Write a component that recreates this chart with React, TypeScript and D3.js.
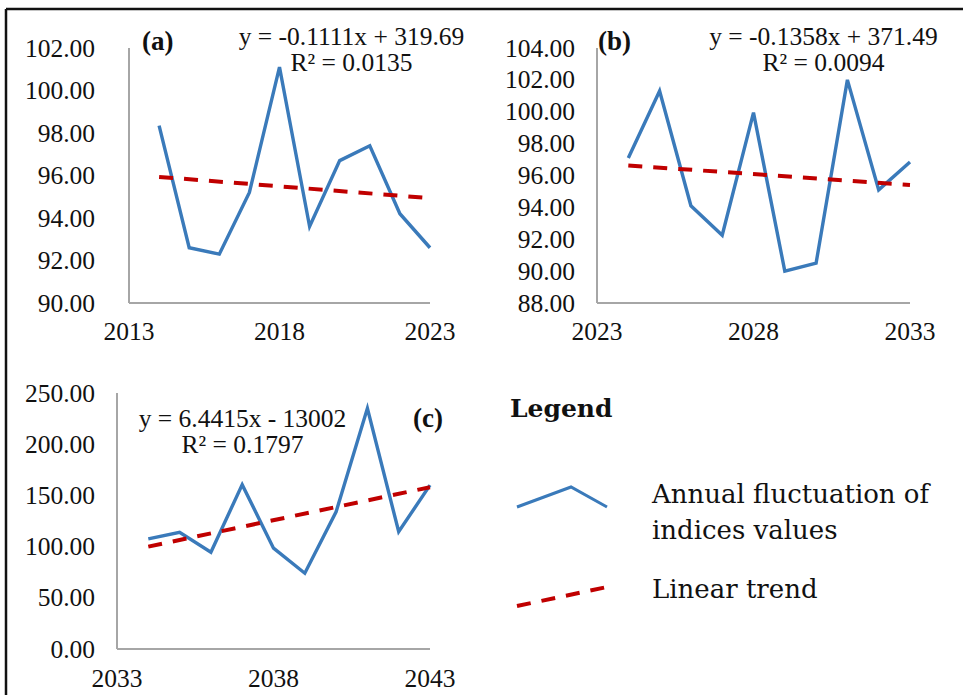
import React from "react";
import { scaleLinear, line } from "d3";

// ---- data ----
const yearsA = [2014, 2015, 2016, 2017, 2018, 2019, 2020, 2021, 2022, 2023];
const valuesA = [98.35, 92.6, 92.3, 95.2, 101.1, 93.6, 96.7, 97.4, 94.2, 92.6];
const yTicksA = [90, 92, 94, 96, 98, 100, 102];
const xTicksA = [2013, 2018, 2023];
const trendA = { slope: -0.1111, intercept: 319.69 };

const yearsB = [2024, 2025, 2026, 2027, 2028, 2029, 2030, 2031, 2032, 2033];
const valuesB = [97.1, 101.3, 94.1, 92.25, 99.95, 90.0, 90.5, 102.0, 95.1, 96.85];
const yTicksB = [88, 90, 92, 94, 96, 98, 100, 102, 104];
const xTicksB = [2023, 2028, 2033];
const trendB = { slope: -0.1358, intercept: 371.49 };

const yearsC = [2034, 2035, 2036, 2037, 2038, 2039, 2040, 2041, 2042, 2043];
const valuesC = [107.5, 114, 94.5, 160.5, 98.5, 74, 134, 235, 114.5, 160];
const yTicksC = [0, 50, 100, 150, 200, 250];
const xTicksC = [2033, 2038, 2043];
const trendC = { slope: 6.4415, intercept: -13002 };

const legendItems = ["Annual fluctuation of", "indices values", "Linear trend"];

const BLUE = "#3a7aba";
const RED = "#c00000";
const AXIS = "#a6a6a6";
const TICK_FONT = "'Liberation Serif', 'Times New Roman', serif";
const LEGEND_FONT = "'DejaVu Serif', serif";
const FS = 25.5;

const Panel = ({ years, values, yTicks, xTicks, trend, left, right, top, bottom, labelEnd, xLabelY, tag, tagPos, eq, r2, eqPos }: any) => {
    const x = scaleLinear().domain([xTicks[0], xTicks[xTicks.length - 1]]).range([left, right]);
    const y = scaleLinear().domain([yTicks[0], yTicks[yTicks.length - 1]]).range([bottom, top]);
    const pts = years.map((yr: number, i: number) => [x(yr), y(values[i])]);
    const path = line()(pts as any) || "";
    const t0 = years[0];
    const t1 = years[years.length - 1];
    const trendPath = line()([
        [x(t0), y(trend.slope * t0 + trend.intercept)],
        [x(t1), y(trend.slope * t1 + trend.intercept)]
    ]) || "";

    return (
        <g>
            <line x1={left} x2={left} y1={top} y2={bottom} stroke={AXIS} strokeWidth={2} />
            <line x1={left} x2={right} y1={bottom} y2={bottom} stroke={AXIS} strokeWidth={2} />
            {yTicks.map((t: number) => (
                <text key={t} x={labelEnd} y={y(t) + 8.5} textAnchor="end" fontFamily={TICK_FONT} fontSize={FS} fill="#111">
                    {t.toFixed(2)}
                </text>
            ))}
            {xTicks.map((t: number) => (
                <text key={t} x={x(t)} y={xLabelY} textAnchor="middle" fontFamily={TICK_FONT} fontSize={FS} fill="#111">
                    {t}
                </text>
            ))}
            <path d={path} fill="none" stroke={BLUE} strokeWidth={3.4} strokeLinejoin="miter" />
            <path d={trendPath} fill="none" stroke={RED} strokeWidth={4} strokeDasharray="14 11" />
            <text x={tagPos[0]} y={tagPos[1]} fontFamily={TICK_FONT} fontWeight="bold" fontSize={27} fill="#111">
                {tag}
            </text>
            <text x={eqPos[0]} y={eqPos[1]} textAnchor="middle" fontFamily={TICK_FONT} fontSize={FS} fill="#111">
                {eq}
            </text>
            <text x={eqPos[0]} y={eqPos[2]} textAnchor="middle" fontFamily={TICK_FONT} fontSize={FS} fill="#111">
                {r2}
            </text>
        </g>
    );
};

export default function App() {
    return (
        <svg
            width={963}
            height={695}
            style={{ position: "absolute", left: 0, top: 0, background: "#fff" }}
        >
            <rect x={0} y={0} width={963} height={695} fill="#fff" />
            <line x1={6} x2={963} y1={9} y2={9} stroke="#111" strokeWidth={2.5} />
            <line x1={6} x2={6} y1={9} y2={695} stroke="#111" strokeWidth={2.5} />

            <Panel
                years={yearsA} values={valuesA} yTicks={yTicksA} xTicks={xTicksA} trend={trendA}
                left={129} right={430} top={48} bottom={303} labelEnd={95} xLabelY={340}
                tag="(a)" tagPos={[142, 50]}
                eq="y = -0.1111x + 319.69" r2="R² = 0.0135" eqPos={[351.5, 45, 71]}
            />
            <Panel
                years={yearsB} values={valuesB} yTicks={yTicksB} xTicks={xTicksB} trend={trendB}
                left={597} right={910} top={48} bottom={303} labelEnd={575} xLabelY={340}
                tag="(b)" tagPos={[598, 50]}
                eq="y = -0.1358x + 371.49" r2="R² = 0.0094" eqPos={[823.5, 45, 71]}
            />
            <Panel
                years={yearsC} values={valuesC} yTicks={yTicksC} xTicks={xTicksC} trend={trendC}
                left={117} right={430} top={393} bottom={649} labelEnd={95} xLabelY={687}
                tag="(c)" tagPos={[413, 427]}
                eq="y = 6.4415x - 13002" r2="R² = 0.1797" eqPos={[242.5, 427, 453]}
            />

            {/* legend */}
            <text x={510} y={417} fontFamily={LEGEND_FONT} fontWeight="bold" fontSize={25} fill="#111">
                Legend
            </text>
            <polyline points="517,507 571,487 607,507" fill="none" stroke={BLUE} strokeWidth={3} />
            <line x1={517} y1={606} x2={607} y2={587} stroke={RED} strokeWidth={4} strokeDasharray="14 11" />
            <text x={652} y={503} fontFamily={LEGEND_FONT} fontSize={26} fill="#111">
                {legendItems[0]}
            </text>
            <text x={652} y={539} fontFamily={LEGEND_FONT} fontSize={26} fill="#111">
                {legendItems[1]}
            </text>
            <text x={652} y={598} fontFamily={LEGEND_FONT} fontSize={26} fill="#111">
                {legendItems[2]}
            </text>
        </svg>
    );
}
